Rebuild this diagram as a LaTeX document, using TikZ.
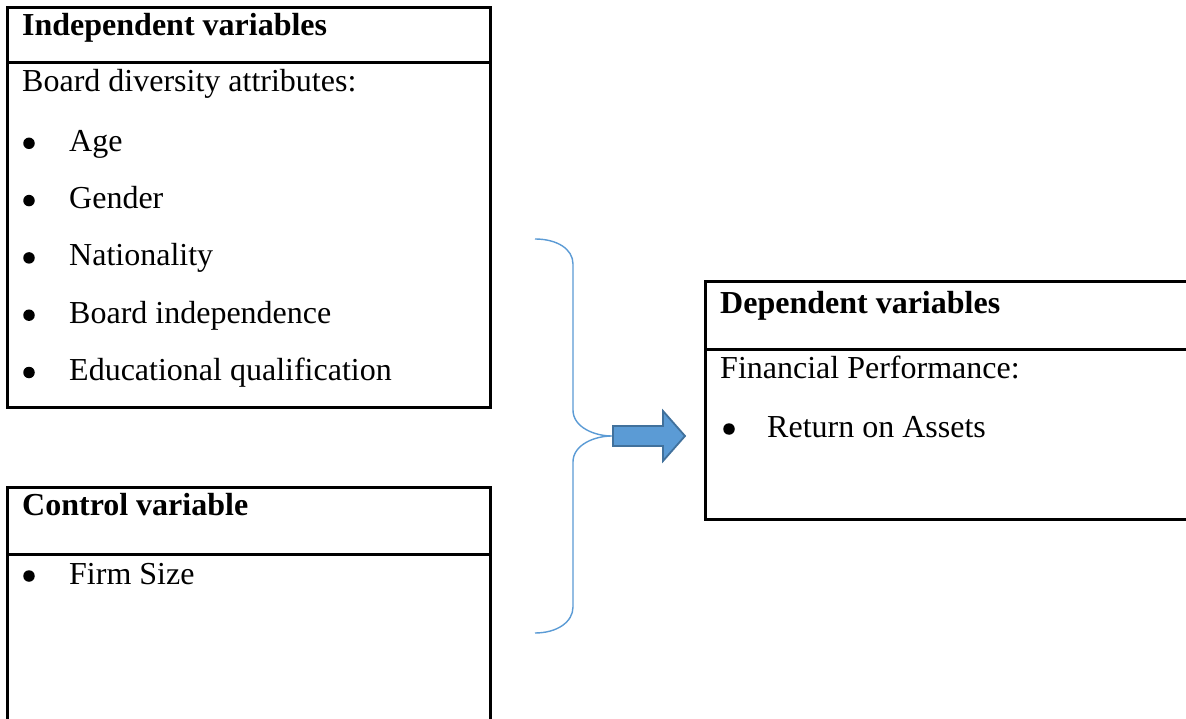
\documentclass[tikz,border=0pt]{standalone}
\usepackage{fontspec}
\setmainfont{Liberation Serif}
\usepackage{tikz}
\definecolor{braceblue}{HTML}{5B9BD5}
\definecolor{arrowedge}{HTML}{41719C}
\tikzset{
  boxline/.style={line width=3pt, black},
  head/.style={anchor=base west, inner sep=0pt, font=\fontsize{32}{38}\selectfont\bfseries},
  txt/.style={anchor=base west, inner sep=0pt, font=\fontsize{32}{38}\selectfont},
  dot/.style={circle, fill=black, inner sep=0pt, minimum size=11.5pt},
}

\begin{document}
\begin{tikzpicture}[x=1pt, y=-1pt]
        \clip (0, 0) rectangle (1186, 719);
        \fill[white] (0, 0) rectangle (1186, 719);

        % independent variables
        \draw[boxline] (7, 8) rectangle (490, 407);
        \draw[boxline] (7, 63) -- (490, 63);
        \node[head] (indep) at (22, 36) {Independent variables};
        \node[txt] (board) at (22, 92) {Board diversity attributes:};
        \foreach \t [count=\i] in {Age, Gender, Nationality, Board independence, Educational qualification} {
            \node[dot] (b\i) at (29, {86+57.3*\i}) {};
            \node[txt] (i\i) at (69, {94+57.3*\i}) {\t};
        }

        % control variable
        \draw[boxline] (7, 487) rectangle (490, 760);
        \draw[boxline] (7, 554) -- (490, 554);
        \node[head] (ctrl) at (22, 515) {Control variable};
        \node[dot] (cb) at (29, 576) {};
        \node[txt] (size) at (69, 584) {Firm Size};

        % dependent variables
        \draw[boxline] (705, 282) rectangle (1230, 519);
        \draw[boxline] (705, 349) -- (1230, 349);
        \node[head] (dep) at (720, 313) {Dependent variables};
        \node[txt] (perf) at (720, 378) {Financial Performance:};
        \node[dot] (db) at (729, 429) {};
        \node[txt] (roa) at (767, 437) {Return on Assets};

        % brace and arrow
        \coordinate (T) at (535, 239);
        \coordinate (M) at (612, 436);
        \coordinate (U) at (535, 633);
        \draw[braceblue, line width=1.4pt]
            (T) .. controls (557, 239) and (573, 249) .. (573, 264)
            -- (573, 410) .. controls (573, 427) and (594, 436) .. (M)
            .. controls (594, 436) and (573, 445) .. (573, 462)
            -- (573, 607) .. controls (573, 622) and (557, 633) .. (U);
        \filldraw[fill=braceblue, draw=arrowedge, line width=1.8pt, line join=miter]
            (M) ++(1, -10) -- (663, 426) -- (663, 411) -- (685, 436)
            -- (663, 461) -- (663, 446) -- (613, 446) -- cycle;
    \end{tikzpicture}
\end{document}
